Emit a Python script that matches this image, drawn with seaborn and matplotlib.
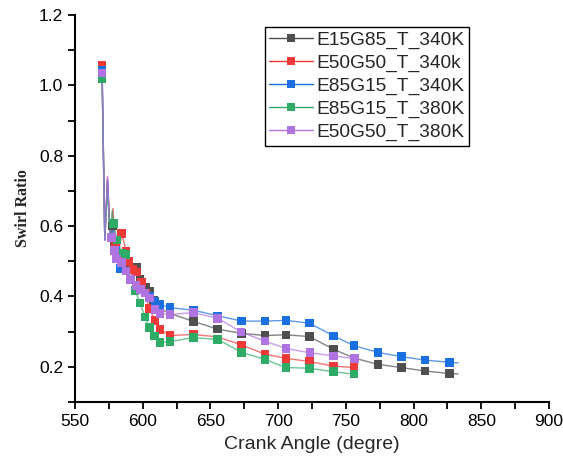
import numpy as np
import pandas as pd
import matplotlib
matplotlib.use("Agg")
import matplotlib.pyplot as plt
import seaborn as sns
from matplotlib.lines import Line2D

labels = ["E15G85_T_340K", "E50G50_T_340k", "E85G15_T_340K", "E85G15_T_380K", "E50G50_T_380K"]
colors = ["#4f4f4f", "#f03a3a", "#1b6fe0", "#2fab68", "#b074e2"]

x_black = [570, 572, 574, 576, 577.5, 579, 581, 584, 588, 591, 595.6, 598, 602, 604.9, 608, 611.5, 620, 637.4, 655.4, 673, 690.3, 705.8, 723.1, 740.8, 756.1, 773.6, 791.0, 808.5, 826.5, 833]
y_black = [1.03, 0.56, 0.73, 0.56, 0.60, 0.545, 0.52, 0.50, 0.49, 0.475, 0.483, 0.45, 0.425, 0.415, 0.39, 0.368, 0.352, 0.329, 0.307, 0.295, 0.289, 0.291, 0.286, 0.250, 0.225, 0.207, 0.198, 0.188, 0.181, 0.180]
mk_black = [1, 0, 0, 0, 1, 1, 1, 1, 1, 1, 1, 1, 1, 1, 1, 1, 1, 1, 1, 1, 1, 1, 1, 1, 1, 1, 1, 1, 1, 0]

x_red = [570, 572, 574, 576, 578, 580, 582, 584.5, 587.7, 590, 592.8, 595.6, 599.2, 602, 604.9, 609.1, 612.8, 620.2, 637.4, 655.4, 673.1, 690.3, 705.8, 723.1, 740.8, 756.1]
y_red = [1.058, 0.57, 0.74, 0.57, 0.65, 0.55, 0.52, 0.579, 0.529, 0.50, 0.477, 0.469, 0.439, 0.41, 0.365, 0.332, 0.306, 0.289, 0.292, 0.285, 0.262, 0.236, 0.224, 0.215, 0.202, 0.198]
mk_red = [1, 0, 0, 0, 0, 1, 1, 1, 1, 1, 1, 1, 1, 1, 1, 1, 1, 1, 1, 0, 1, 1, 1, 1, 1, 1]

x_blue = [570, 572, 574, 576, 578, 580, 583.8, 586, 589, 592, 595, 598, 602, 605, 609.1, 612.8, 620.2, 637.4, 655.4, 673.1, 690.3, 705.8, 723.1, 740.8, 756.1, 773.6, 791.0, 808.5, 826.5, 833]
y_blue = [1.042, 0.56, 0.73, 0.56, 0.60, 0.53, 0.479, 0.475, 0.465, 0.45, 0.435, 0.42, 0.41, 0.40, 0.387, 0.377, 0.368, 0.361, 0.345, 0.330, 0.330, 0.332, 0.324, 0.288, 0.260, 0.241, 0.229, 0.219, 0.213, 0.211]
mk_blue = [1, 0, 0, 0, 0, 1, 1, 0, 0, 0, 0, 0, 0, 1, 1, 1, 1, 1, 1, 1, 1, 1, 1, 1, 1, 1, 1, 1, 1, 0]

x_green = [570, 572, 574, 576, 577.5, 578.5, 581, 584.5, 587.7, 590, 594.3, 598, 601.7, 604.9, 608.6, 612.8, 620.2, 637.4, 655.2, 673.1, 690.3, 705.8, 723.1, 740.8, 756.1]
y_green = [1.018, 0.57, 0.70, 0.57, 0.645, 0.607, 0.56, 0.524, 0.519, 0.49, 0.417, 0.382, 0.342, 0.311, 0.287, 0.269, 0.272, 0.283, 0.278, 0.241, 0.221, 0.198, 0.196, 0.186, 0.179]
mk_green = [1, 0, 0, 0, 0, 1, 1, 1, 1, 0, 1, 1, 1, 1, 1, 1, 1, 1, 1, 1, 1, 1, 1, 1, 1]

x_purple = [570, 572, 574, 576, 577.1, 579, 580.8, 584.5, 587.7, 591.1, 595.1, 598.5, 601.7, 604.9, 609.1, 612.8, 620.2, 637.4, 655.4, 672.6, 690.3, 705.8, 723.6, 740.8, 756.3]
y_purple = [1.035, 0.56, 0.74, 0.56, 0.567, 0.53, 0.507, 0.496, 0.472, 0.448, 0.431, 0.420, 0.41, 0.396, 0.363, 0.351, 0.349, 0.354, 0.338, 0.299, 0.273, 0.252, 0.240, 0.231, 0.223]
mk_purple = [1, 0, 0, 0, 1, 1, 1, 1, 1, 1, 1, 1, 1, 1, 1, 1, 1, 1, 1, 1, 1, 1, 1, 1, 1]

series = [
    (x_black, y_black, mk_black),
    (x_red, y_red, mk_red),
    (x_blue, y_blue, mk_blue),
    (x_green, y_green, mk_green),
    (x_purple, y_purple, mk_purple),
]

frames = []
for lab, (xs, ys, mk) in zip(labels, series):
    frames.append(pd.DataFrame({"angle": xs, "swirl": ys, "mark": mk, "series": lab}))
df = pd.concat(frames, ignore_index=True)

sns.set_style("ticks")
plt.rcParams['font.family'] = ['Liberation Sans', 'DejaVu Sans']

fig = plt.figure(figsize=(5.63, 4.63), dpi=100)
ax = fig.add_axes([75/563, 1 - 402/463, 474/563, 387/463])

palette = dict(zip(labels, colors))
sns.lineplot(data=df, x="angle", y="swirl", hue="series", hue_order=labels,
             palette=palette, sort=False, estimator=None, ax=ax,
             linewidth=1.0, alpha=0.7, legend=False)
sns.scatterplot(data=df[df["mark"] == 1], x="angle", y="swirl", hue="series",
                hue_order=labels, palette=palette, marker="s", s=38,
                edgecolor="none", ax=ax, legend=False, zorder=3)

handles = [Line2D([0, 0.5, 1], [0, 0, 0], color=c, lw=1.0, marker="s", markersize=6,
                  markeredgewidth=0, markevery=[1]) for c in colors]
leg = ax.legend(handles, labels, loc="upper left", bbox_to_anchor=(0.40, 0.97),
                frameon=True, fancybox=False, framealpha=1, edgecolor="black",
                fontsize=13.8, handlelength=2.25, handletextpad=0.2,
                labelspacing=0.28, borderpad=0.25, borderaxespad=0)
leg.get_frame().set_linewidth(1.0)

ax.set_xlim(550, 900)
ax.set_ylim(0.1, 1.2)
ax.set_xticks([550, 600, 650, 700, 750, 800, 850, 900])
ax.set_xticks(np.arange(575, 900, 50), minor=True)
ax.set_yticks([0.2, 0.4, 0.6, 0.8, 1.0, 1.2])
ax.set_yticks([0.1, 0.3, 0.5, 0.7, 0.9, 1.1], minor=True)
ax.set_yticklabels(["0.2", "0.4", "0.6", "0.8", "1.0", "1.2"])
ax.tick_params(axis="both", which="both", direction="out", length=5, width=1.3,
               labelsize=12.5, colors="black")
for s in ["top", "right"]:
    ax.spines[s].set_visible(False)
for s in ["left", "bottom"]:
    ax.spines[s].set_linewidth(1.5)
    ax.spines[s].set_color("black")

ax.set_xlabel("Crank Angle (degre)", fontsize=14, labelpad=5)
ax.set_ylabel("Swirl Ratio", fontsize=11.5, fontweight="bold",
              family=["Liberation Serif", "DejaVu Serif"], labelpad=6)

fig.savefig("out.png", dpi=100)
